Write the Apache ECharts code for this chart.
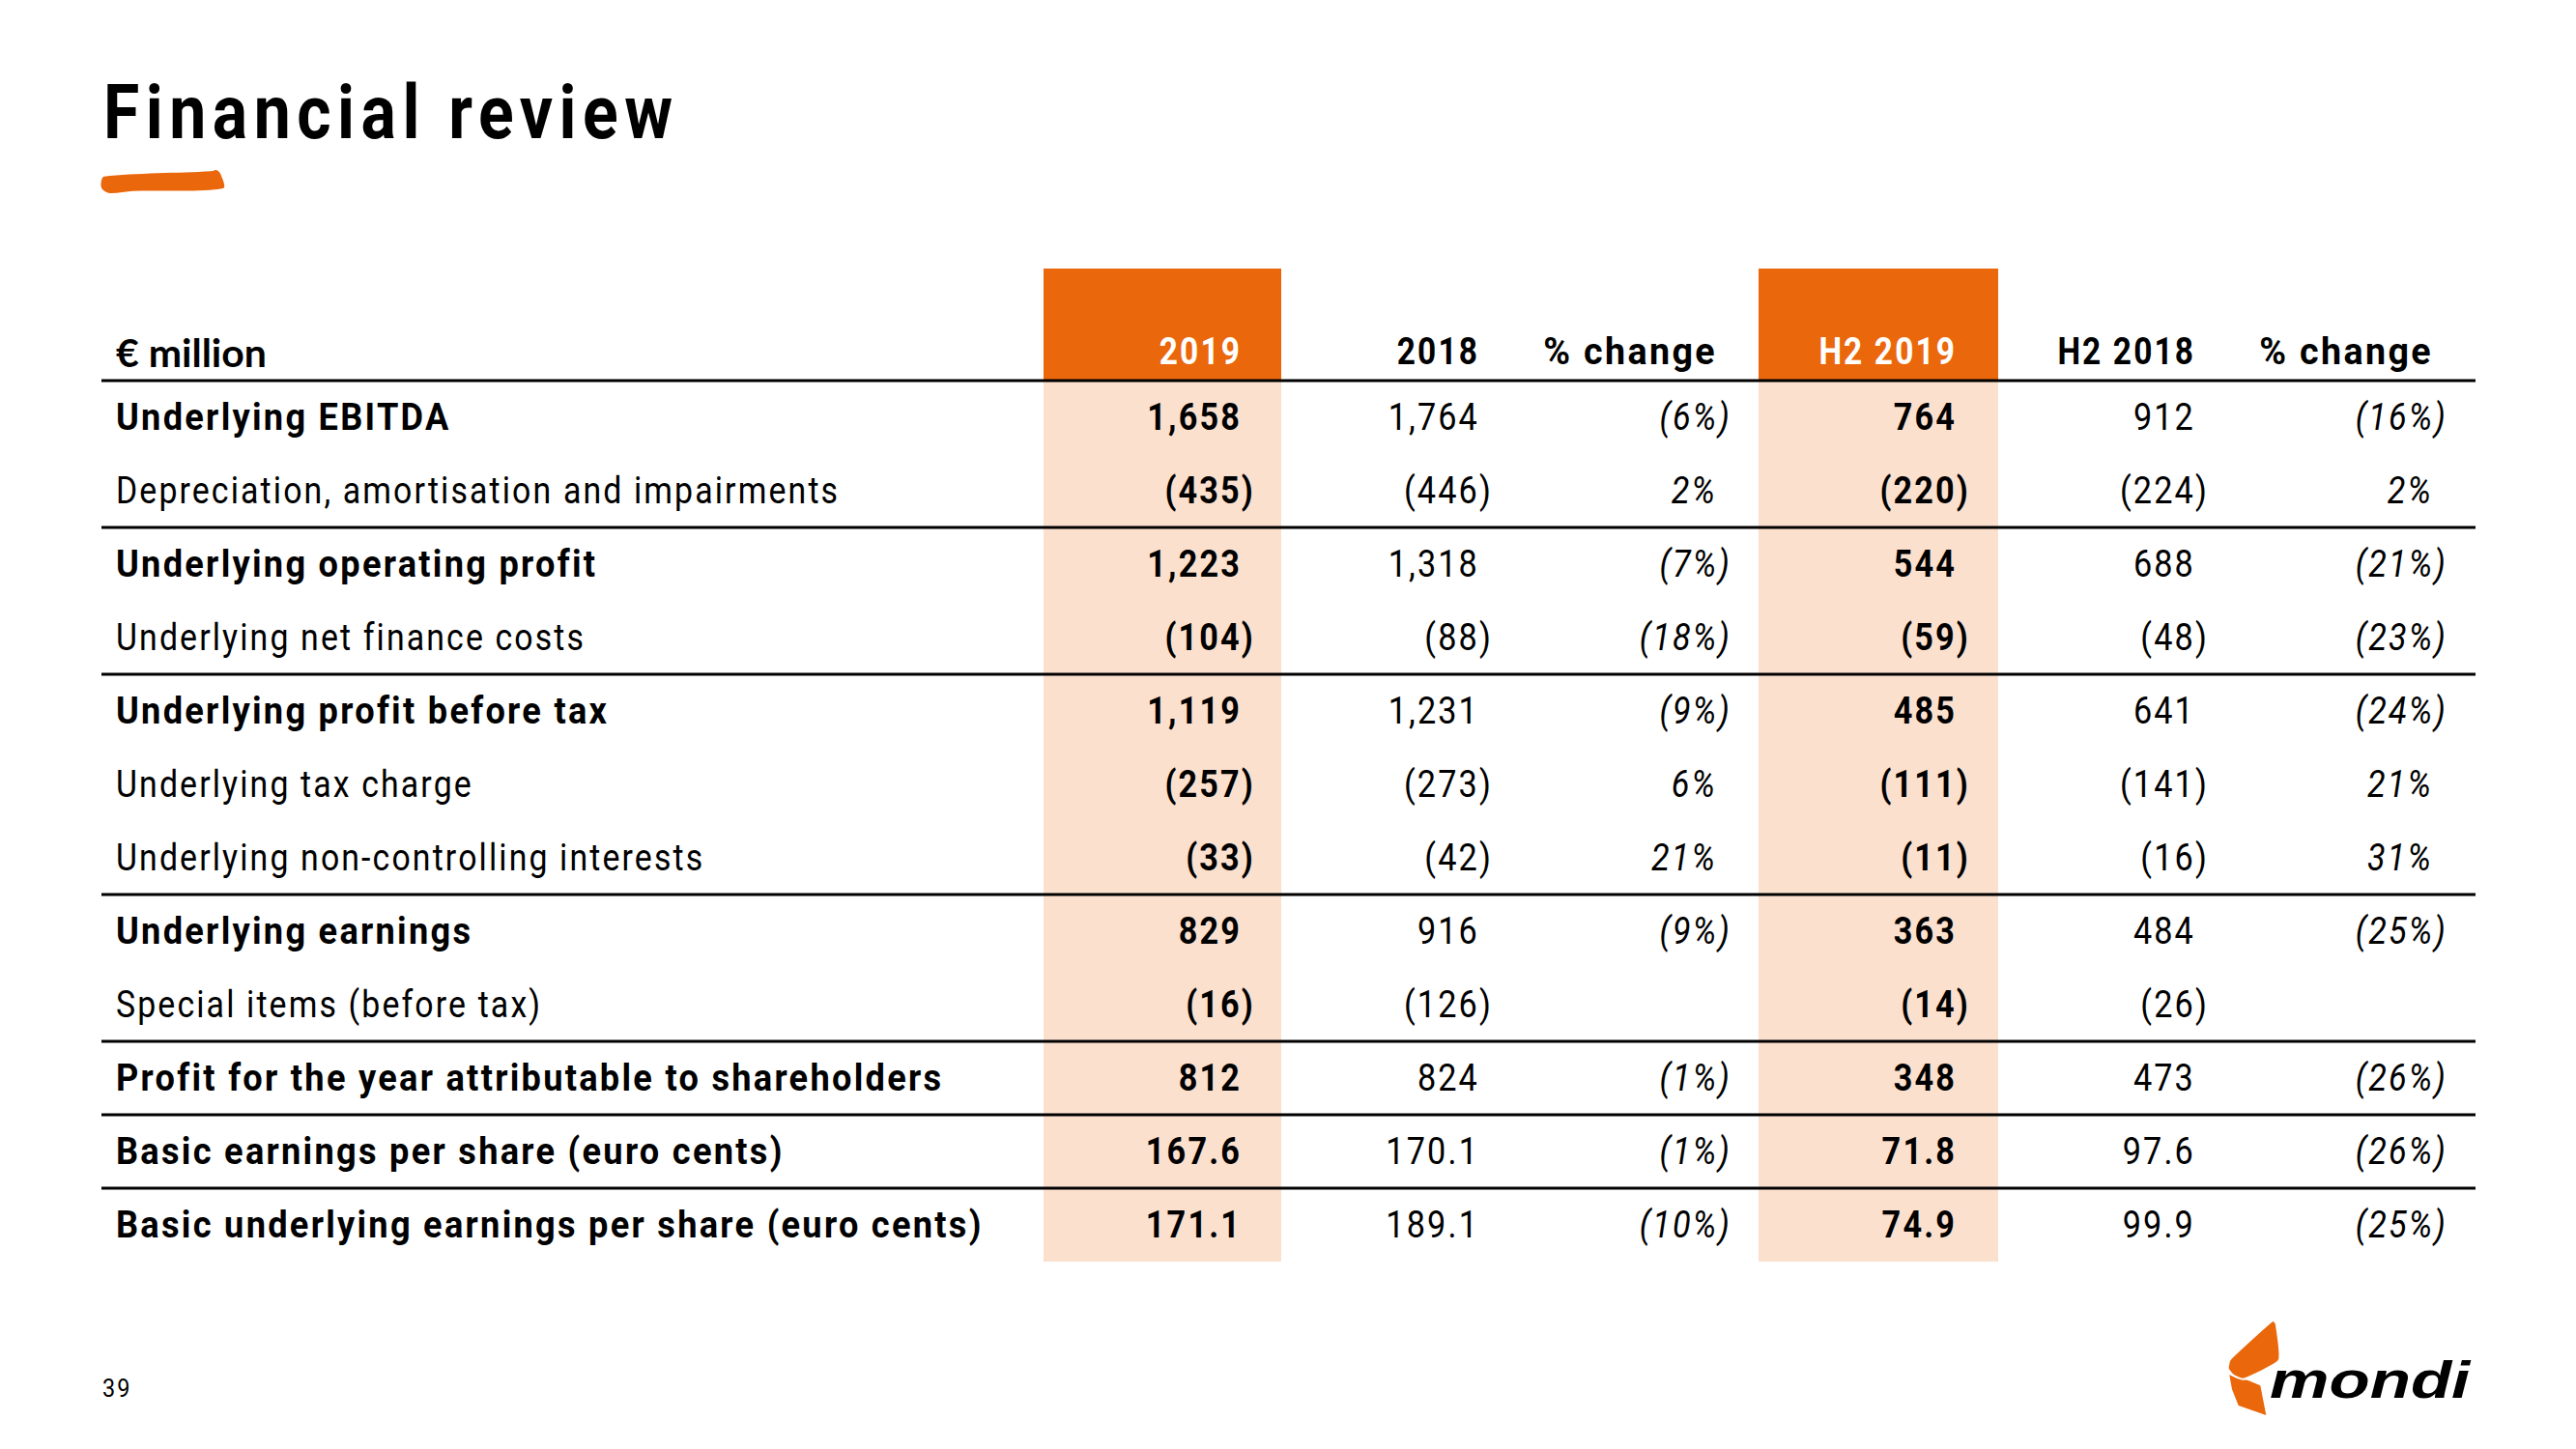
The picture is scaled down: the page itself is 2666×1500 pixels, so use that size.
<!DOCTYPE html>
<html>
<head>
<meta charset="utf-8">
<script src="https://cdn.jsdelivr.net/npm/echarts@6/dist/echarts.min.js"></script>
<style>
  html, body { margin: 0; padding: 0; background: #fff; }
  #chart { width: 2666px; height: 1500px; }
  #chart svg text { letter-spacing: 2.4px; }
  #chart svg text[style*="78px"] { letter-spacing: 7.5px; }
  #chart svg text[style*="Lato"] { letter-spacing: 0; }
  #chart svg text[style*="54px"] { letter-spacing: 0; }
</style>
</head>
<body>
<div id="chart"></div>
<script>
// ---------------- data ----------------
const columnHeaders = ['€ million', '2019', '2018', '% change', 'H2 2019', 'H2 2018', '% change'];
const rowLabels = [
  'Underlying EBITDA',
  'Depreciation, amortisation and impairments',
  'Underlying operating profit',
  'Underlying net finance costs',
  'Underlying profit before tax',
  'Underlying tax charge',
  'Underlying non-controlling interests',
  'Underlying earnings',
  'Special items (before tax)',
  'Profit for the year attributable to shareholders',
  'Basic earnings per share (euro cents)',
  'Basic underlying earnings per share (euro cents)'
];
const fy2019 = [1658, -435, 1223, -104, 1119, -257, -33, 829, -16, 812, 167.6, 171.1];
const fy2018 = [1764, -446, 1318, -88, 1231, -273, -42, 916, -126, 824, 170.1, 189.1];
const fyChangePct = [-6, 2, -7, -18, -9, 6, 21, -9, null, -1, -1, -10];
const h2y2019 = [764, -220, 544, -59, 485, -111, -11, 363, -14, 348, 71.8, 74.9];
const h2y2018 = [912, -224, 688, -48, 641, -141, -16, 484, -26, 473, 97.6, 99.9];
const h2ChangePct = [-16, 2, -21, -23, -24, 21, 31, -25, null, -26, -26, -25];
const rowDecimals = [0, 0, 0, 0, 0, 0, 0, 0, 0, 0, 1, 1];

// ---------------- layout / style ----------------
const boldRows = [0, 2, 4, 7, 9, 10, 11];
const ruleAfterRows = [1, 3, 6, 8, 9, 10];
const columns = [fy2019, fy2018, fyChangePct, h2y2019, h2y2018, h2ChangePct];
const columnKind = ['value', 'value', 'pct', 'value', 'value', 'pct'];
const highlightCols = [1, 4];
const colAnchor = [120, 1285, 1531, 1777, 2025, 2272, 2518];
const colBand = { 1: [1080, 1326], 4: [1820, 2068] };
const tableLeft = 105, tableRight = 2562;
const headerTop = 278;
const parenOverhang = 14;
const ORANGE = '#EA670C', PEACH = '#FCE0CE';
const FONT = "Roboto, 'Noto Sans', sans-serif";

function fmtValue(v, dec) {
  if (v === null || v === undefined) return '';
  const s = Math.abs(v).toLocaleString('en-US', { minimumFractionDigits: dec, maximumFractionDigits: dec });
  return v < 0 ? '(' + s + ')' : s;
}
function fmtPct(v) {
  if (v === null || v === undefined) return '';
  return v < 0 ? '(' + Math.abs(v) + '%)' : v + '%';
}

const yCats = ['header'].concat(rowLabels);
const cellData = [];
for (let yi = 0; yi < yCats.length; yi++) {
  for (let c = 0; c < columnHeaders.length; c++) cellData.push([c, yi]);
}

function cellText(c, yi) {
  if (yi === 0) return columnHeaders[c];
  const r = yi - 1;
  if (c === 0) return rowLabels[r];
  const v = columns[c - 1][r];
  return columnKind[c - 1] === 'pct' ? fmtPct(v) : fmtValue(v, rowDecimals[r]);
}

function renderItem(params, api) {
  const c = api.value(0), yi = api.value(1);
  const center = api.coord([colAnchor[c], yi]);
  const bandH = api.size([0, 1])[1];
  const top = center[1] - bandH / 2, bottom = center[1] + bandH / 2;
  const xLeft = api.coord([tableLeft, yi])[0], xRight = api.coord([tableRight, yi])[0];
  const children = [];
  const hl = highlightCols.indexOf(c) >= 0;
  const txt = cellText(c, yi);
  if (hl) {
    const b0 = api.coord([colBand[c][0], yi])[0], b1 = api.coord([colBand[c][1], yi])[0];
    const t = yi === 0 ? headerTop : top;
    children.push({ type: 'rect', z2: 0, shape: { x: b0, y: t, width: b1 - b0, height: bottom - t },
      style: { fill: yi === 0 ? ORANGE : PEACH } });
  }
  if (c === 0 && (yi === 0 || ruleAfterRows.indexOf(yi - 1) >= 0)) {
    children.push({ type: 'line', z2: 10, shape: { x1: xLeft, y1: bottom, x2: xRight, y2: bottom },
      style: { stroke: '#000', lineWidth: 3 } });
  }
  let font, fill = '#000', align = 'right', x = center[0], y = center[1], sx = 0.9;
  if (yi === 0) {
    y = center[1] + 8;
    if (c === 0) { font = "bold 41px Lato, 'Noto Sans', sans-serif"; align = 'left'; sx = 1; x = api.coord([120, yi])[0]; }
    else {
      font = 'bold 38px ' + FONT; if (hl) fill = '#fff';
      sx = txt.indexOf('%') >= 0 ? 0.99 : 0.88;
    }
  } else {
    const r = yi - 1;
    if (c === 0) {
      align = 'left';
      const b = boldRows.indexOf(r) >= 0;
      font = (b ? 'bold ' : '') + '38px ' + FONT;
      sx = b ? 0.952 : 0.89;
    } else {
      const kind = columnKind[c - 1];
      if (kind === 'pct') font = 'italic 38px ' + FONT;
      else font = (hl ? 'bold ' : '') + '38px ' + FONT;
      sx = 0.9;
      if (txt.slice(-1) === ')') x += parenOverhang + (kind === 'pct' ? 1 : 0);
    }
  }
  children.push({ type: 'text', z2: 20, x: x, y: y, scaleX: sx,
    style: { text: txt, x: 0, y: 0, font: font, fill: fill,
      textAlign: align, align: align, textVerticalAlign: 'middle', verticalAlign: 'middle' } });
  return { type: 'group', children: children };
}

const chart = echarts.init(document.getElementById('chart'), null, { renderer: 'svg' });
chart.setOption({
  backgroundColor: '#fff',
  animation: false,
  grid: { left: 0, right: 0, top: 318, bottom: 194 },
  xAxis: { type: 'value', min: 0, max: 2666, show: false },
  yAxis: { type: 'category', data: yCats, inverse: true, show: false },
  series: [{ type: 'custom', renderItem: renderItem, data: cellData, clip: false }],
  graphic: [
    { type: 'text', x: 107, y: 116, scaleX: 0.87,
      style: { text: 'Financial review', font: 'bold 78px ' + FONT, fill: '#000',
        textVerticalAlign: 'middle', verticalAlign: 'middle' } },
    { type: 'polygon', shape: { smooth: 0.3, points: [[104.5,190],[107.7,182.7],[218.4,177.3],[223.8,176],[228.2,180],[230.9,195],[138,197.7],[113.5,200],[105.9,196]] },
      style: { fill: ORANGE } },
    { type: 'text', x: 106, y: 1437, scaleX: 0.9,
      style: { text: '39', font: '26px ' + FONT, fill: '#000', textVerticalAlign: 'middle', verticalAlign: 'middle' } },
    { type: 'polygon', shape: { points: [[2307.3,1423.3],[2315,1426.7],[2326.7,1429],[2339.3,1434.3],[2345.3,1465],[2316.7,1455],[2310,1438.3]] },
      style: { fill: ORANGE } },
    { type: 'polygon', shape: { smooth: 0.15, points: [[2352.3,1366.7],[2355.7,1370],[2358.7,1408.3],[2321.7,1427.7],[2310.7,1423.3],[2305.7,1416.7],[2307.3,1408.3],[2313.3,1401.7]] },
      style: { fill: ORANGE, stroke: '#fff', lineWidth: 2 } },
    { type: 'text', x: 2349, y: 1428, scaleX: 1.28,
      style: { text: 'mondi', font: "italic 900 54px 'Liberation Sans', sans-serif", fill: '#000',
        textVerticalAlign: 'middle', verticalAlign: 'middle' } }
  ]
});
</script>
</body>
</html>
